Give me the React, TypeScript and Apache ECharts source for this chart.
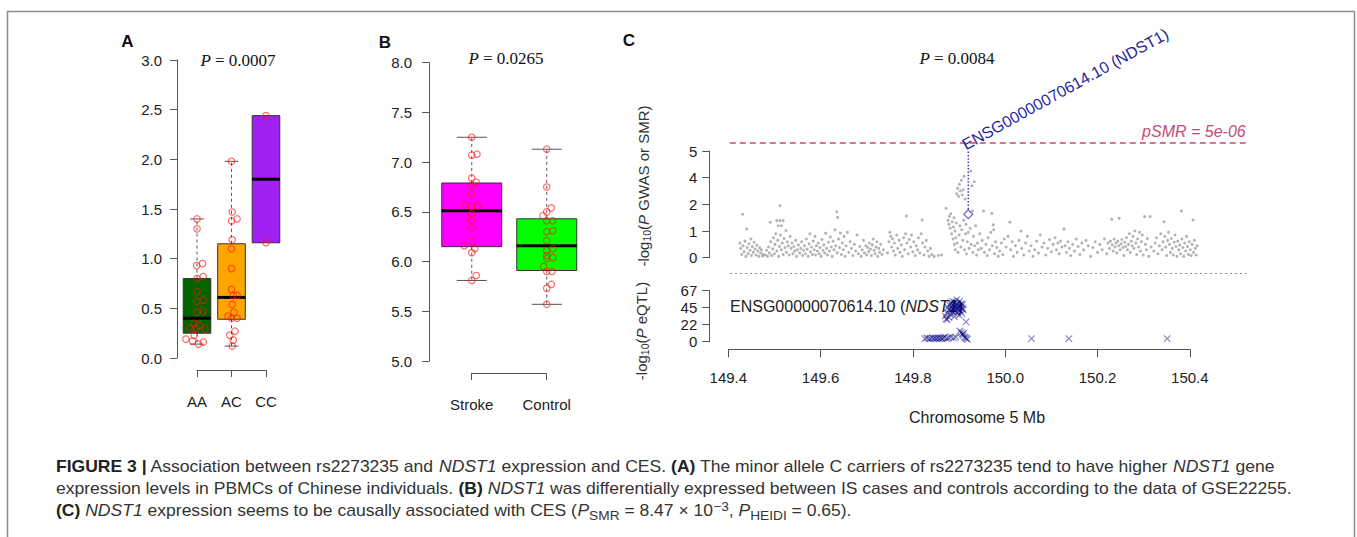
import React, { useEffect, useRef } from "react";
import * as echarts from "echarts";

const SANS = '"Liberation Sans", Arial, Helvetica, sans-serif';
const SERIF = '"Liberation Serif", "Times New Roman", serif';

// ---------------- Panel A ----------------
const genotypes = ["AA", "AC", "CC"];
const genotypeFill = ["#006400", "#FFA500", "#A020F0"];
// [low whisker, Q1, median, Q3, high whisker]
const boxA = [
  [0.14, 0.25, 0.40, 0.80, 1.40],
  [0.12, 0.39, 0.61, 1.15, 1.98],
  [1.16, 1.16, 1.80, 2.44, 2.44],
];
// [jitter offset, value]
const jitterAA = [
  [0, 1.40], [0, 1.30], [-0.01, 0.93], [0.16, 0.95], [0, 0.80], [0.18, 0.82], [0, 0.67],
  [0, 0.57], [0.18, 0.58], [0, 0.46], [0.18, 0.47], [-0.08, 0.35], [0.06, 0.33],
  [-0.22, 0.30], [-0.01, 0.30], [0.23, 0.29], [-0.32, 0.19], [-0.13, 0.17], [0.04, 0.14],
  [0.18, 0.16], [-0.08, 0.23],
];
const jitterAC = [
  [0, 1.98], [0.02, 1.47], [0, 1.38], [0.16, 1.40], [0.02, 1.19], [0, 1.10], [0, 0.90],
  [0, 0.69], [0.05, 0.63], [0.16, 0.63], [0.02, 0.54], [0.07, 0.46], [-0.1, 0.42],
  [0, 0.40], [0.16, 0.40], [0.1, 0.27], [-0.05, 0.23], [0.05, 0.18], [0.02, 0.12],
];
const jitterCC = [[0, 2.44], [0, 1.16]];
const pValueA = "0.0007";

// ---------------- Panel B ----------------
const groupsB = ["Stroke", "Control"];
const groupFillB = ["#FF00FF", "#00FF00"];
const boxB = [
  [5.81, 6.15, 6.51, 6.79, 7.25],
  [5.57, 5.91, 6.16, 6.43, 7.13],
];
const jitterStroke = [
  [0, 7.25], [0, 7.07], [0.07, 7.08], [0, 6.84], [0.06, 6.80], [0, 6.77], [0, 6.68],
  [-0.08, 6.57], [0, 6.55], [0.08, 6.56], [0, 6.48], [0, 6.42], [0, 6.34], [0.01, 6.20],
  [-0.1, 6.16], [0.04, 6.13], [0, 6.09], [0.06, 5.86], [0, 5.81],
];
const jitterControl = [
  [0, 7.13], [0, 6.75], [0.06, 6.54], [0, 6.50], [-0.05, 6.46], [0, 6.41], [0.08, 6.41],
  [0, 6.30], [0.08, 6.31], [0, 6.21], [0.08, 6.13], [0, 6.11], [0, 6.06], [0.08, 6.04],
  [0, 6.03], [-0.04, 5.95], [0, 5.90], [0.07, 5.90], [0.06, 5.77], [0, 5.73], [0, 5.57],
];
const pValueB = "0.0265";

// ---------------- Panel C ----------------
const gwasTickLabels = ["0", "1", "2", "4", "5"];
// [position Mb, plotted -log10 P (axis units)]
const gwasPoints = [
  [149.425,0.55],[149.427,0.35],[149.429,0.12],[149.431,1.63],[149.432,0.45],[149.434,0.22],[149.436,0.62],[149.438,0.05],[149.440,1.08],[149.441,0.38],[149.443,0.15],[149.445,0.52],[149.447,0.28],[149.449,0.70],[149.450,0.08],[149.452,0.42],[149.454,0.20],[149.456,0.58],[149.458,0.33],[149.460,0.10],[149.462,0.47],[149.464,0.25],[149.466,0.05],[149.468,0.37],[149.470,0.18],[149.472,0.30],[149.474,0.06],[149.476,0.12],
  [149.480,0.10],[149.483,0.28],[149.485,0.05],[149.487,0.40],[149.489,0.18],[149.491,1.33],[149.492,0.60],[149.494,0.08],[149.496,0.33],[149.498,0.75],[149.500,0.15],[149.501,0.50],[149.503,0.90],[149.505,1.39],[149.505,0.25],[149.507,0.65],[149.508,1.20],[149.509,0.05],[149.511,0.42],[149.512,1.95],[149.512,1.39],[149.513,0.85],[149.515,1.20],[149.515,0.30],[149.517,0.55],[149.519,1.39],[149.519,0.12],[149.521,0.72],[149.523,0.38],[149.525,1.02],[149.526,0.20],[149.528,0.60],[149.530,0.45],[149.532,0.10],[149.534,0.80],[149.536,0.35],[149.538,0.55],[149.540,0.15],[149.542,0.42],[149.544,0.25],[149.546,0.65],[149.548,0.05],[149.550,0.30],
  [149.552,0.48],[149.555,0.18],[149.557,0.35],[149.559,0.60],[149.561,0.08],[149.563,0.28],[149.565,0.45],[149.567,0.15],[149.569,0.70],[149.571,0.32],[149.573,0.05],[149.575,0.52],[149.577,0.90],[149.578,0.22],[149.580,0.40],[149.582,0.12],[149.584,0.62],[149.586,0.30],[149.588,0.80],[149.589,0.10],[149.591,0.45],[149.593,0.25],[149.595,0.55],[149.597,0.15],[149.599,0.38],[149.601,0.05],[149.603,0.68],[149.605,0.28],[149.607,0.48],[149.609,0.18],[149.611,0.92],[149.613,0.35],[149.615,0.10],[149.617,0.58],[149.619,0.25],[149.621,0.78],[149.623,0.40],[149.625,0.05],[149.627,0.62],[149.629,0.30],[149.631,1.05],[149.633,0.45],[149.635,1.72],[149.636,0.18],[149.637,1.51],[149.639,0.70],[149.641,0.38],[149.643,0.92],[149.645,0.12],[149.647,0.55],[149.649,0.30],[149.651,0.80],[149.653,0.05],[149.655,0.45],
  [149.658,0.95],[149.661,0.20],[149.664,0.60],[149.667,0.35],[149.670,0.08],[149.673,0.50],[149.676,0.25],[149.679,0.85],[149.682,0.15],[149.685,0.42],[149.688,0.05],[149.690,0.30],[149.693,0.65],[149.695,0.18],[149.698,0.45],[149.700,0.10],[149.702,0.38],[149.704,0.22],[149.706,0.55],[149.708,0.32],[149.710,0.08],[149.712,0.48],[149.714,0.70],[149.716,0.28],[149.718,0.15],[149.720,0.40],[149.722,0.60],[149.724,0.05],[149.726,0.35],[149.728,0.20],[149.730,0.50],[149.733,0.12],[149.736,0.30],
  [149.745,0.18],[149.748,0.60],[149.750,0.95],[149.752,0.80],[149.754,0.40],[149.756,0.70],[149.758,0.25],[149.760,0.55],[149.762,0.10],[149.765,0.85],[149.767,0.35],[149.770,0.65],[149.772,0.20],[149.775,0.48],[149.777,0.05],[149.780,0.75],[149.782,0.30],[149.784,0.90],[149.786,1.56],[149.787,0.55],[149.790,0.15],[149.792,0.68],[149.795,0.40],[149.797,0.85],[149.800,0.22],[149.802,0.60],[149.805,0.08],[149.807,0.45],[149.810,0.30],[149.812,0.75],[149.815,0.18],[149.818,0.90],[149.820,1.41],[149.821,0.55],[149.824,0.10],[149.826,0.40],[149.829,0.65],[149.832,0.25],[149.835,0.05],[149.838,0.35],[149.841,0.12],[149.846,0.05],[149.855,0.08],[149.862,0.10],[149.872,1.85],
  [149.876,1.40],[149.878,1.25],[149.879,1.55],[149.881,1.10],[149.882,1.65],[149.884,0.90],[149.885,1.35],[149.887,0.70],[149.888,1.15],[149.889,1.50],[149.890,0.50],[149.891,1.00],[149.892,0.30],[149.893,0.75],[149.894,1.30],[149.895,2.40],[149.896,0.55],[149.897,2.60],[149.898,0.20],[149.899,2.30],[149.900,0.85],[149.901,2.75],[149.902,1.20],[149.903,2.50],[149.904,0.40],[149.905,2.90],[149.906,1.05],[149.907,2.35],[149.908,0.65],[149.909,2.55],[149.910,1.40],[149.911,3.05],[149.912,0.30],[149.913,2.20],[149.914,0.90],[149.915,1.25],[149.916,0.15],[149.918,0.60],[149.920,0.95],[149.922,0.35],[149.924,1.10],[149.925,3.25],[149.926,0.50],[149.928,2.70],[149.929,1.75],[149.930,0.20],[149.931,0.80],[149.933,2.85],[149.934,0.45],[149.936,1.20],[149.938,0.10],[149.940,0.55],[149.942,0.30],
  [149.945,0.90],[149.948,0.35],[149.950,0.65],[149.953,1.75],[149.955,0.20],[149.958,0.50],[149.961,0.08],[149.963,0.75],[149.966,0.30],[149.969,0.95],[149.971,1.66],[149.972,0.45],[149.974,1.23],[149.975,1.05],[149.977,0.15],[149.979,0.60],[149.982,0.38],[149.985,0.05],[149.988,0.25],[149.992,0.55],[149.995,0.12],[149.998,0.70],[150.002,0.40],[150.006,0.80],[150.010,1.33],[150.012,0.30],[150.015,0.60],[150.018,0.05],[150.022,0.45],[150.026,0.20],[150.030,0.65],[150.034,1.00],[150.036,0.35],[150.040,0.10],[150.044,0.55],[150.048,0.80],[150.052,0.25],[150.056,0.45],[150.060,0.05],[150.064,0.30],[150.068,0.62],[150.072,0.18],[150.076,0.85],[150.080,0.40],[150.084,0.55],[150.088,0.10],[150.092,0.35],[150.096,0.68],[150.100,0.22],
  [150.104,0.50],[150.108,0.75],[150.111,0.30],[150.114,0.55],[150.117,0.15],[150.120,0.62],[150.123,0.40],[150.127,1.08],[150.130,0.45],[150.133,0.20],[150.136,0.60],[150.139,0.35],[150.142,0.08],[150.146,0.50],[150.150,0.25],[150.154,0.70],[150.158,0.42],[150.162,0.12],[150.166,0.55],[150.170,0.30],[150.175,0.65],[150.180,0.45],[150.185,0.05],[150.190,0.38],[150.195,0.60],[150.200,0.20],[150.205,0.50],[150.210,0.30],[150.215,0.70],[150.220,0.15],
  [150.223,0.55],[150.226,0.35],[150.228,0.62],[150.231,1.44],[150.232,0.48],[150.234,0.25],[150.236,0.70],[150.238,0.40],[150.240,0.55],[150.242,0.18],[150.244,0.62],[150.246,0.45],[150.247,1.48],[150.249,0.30],[150.251,0.52],[150.253,0.68],[150.255,0.38],[150.257,0.08],[150.259,0.58],[150.261,0.42],[150.263,0.75],[150.265,0.30],[150.267,0.50],[150.269,0.90],[150.271,0.20],[150.273,0.62],[150.275,0.45],[150.277,0.80],[150.279,0.35],[150.281,1.00],[150.283,0.55],[150.285,0.12],[150.287,0.70],[150.289,0.40],[150.291,0.95],[150.293,0.25],[150.295,0.60],[150.297,0.85],[150.299,0.10],[150.302,1.54],[150.304,0.50],[150.306,0.30],[150.308,0.72],[150.311,0.05],[150.314,1.54],[150.316,0.40],
  [150.322,0.25],[150.325,0.55],[150.328,0.75],[150.331,0.15],[150.334,0.45],[150.337,0.90],[150.340,0.30],[150.342,0.60],[150.344,1.35],[150.346,0.80],[150.348,0.40],[150.350,0.08],[150.352,0.65],[150.354,0.95],[150.356,0.50],[150.358,0.20],[150.360,0.72],[150.362,0.35],[150.364,0.10],[150.366,0.58],[150.368,0.85],[150.370,0.42],[150.372,0.05],[150.374,0.62],[150.376,0.30],[150.378,0.48],[150.380,0.15],[150.382,1.75],[150.383,0.70],[150.385,0.38],[150.387,0.05],[150.389,0.55],[150.391,0.25],[150.393,0.80],[150.395,0.42],[150.397,0.12],[150.399,0.60],[150.401,0.30],[150.403,0.08],[150.405,0.50],[150.407,1.41],[150.408,0.20],[150.410,0.65],[150.412,0.35],[150.414,0.10],[150.416,0.45],
];
const smrThresholdPos = 4.3;
const smrThresholdLabel = "pSMR = 5e-06";
const smrProbe = [149.92, 1.63];
const smrLabelTop = 4.05;
const probeName = "ENSG00000070614.10";
const geneName = "NDST1";
// [position Mb, -log10 P eQTL]
const eqtlPoints = [
  [149.870,34],[149.872,30],[149.874,38],[149.876,45],[149.878,42],[149.880,48],[149.881,36],[149.882,51],[149.883,44],[149.884,40],[149.885,47],[149.886,53],[149.887,43],[149.888,49],[149.889,38],[149.890,46],[149.891,52],[149.892,41],[149.893,48],[149.894,44],[149.895,55],[149.896,39],[149.897,47],[149.898,50],[149.899,43],[149.900,46],[149.901,53],[149.902,41],[149.903,48],[149.904,45],[149.905,50],[149.906,37],[149.907,44],[149.908,49],[149.909,42],[149.878,32],[149.874,29],[149.890,33],[149.900,35],[149.915,26],
  [149.826,4],[149.830,5],[149.834,4],[149.838,4],[149.842,5],[149.845,4],[149.848,5],[149.851,4],[149.854,5],[149.857,4],[149.860,5],[149.863,4],[149.866,5],[149.869,6],[149.873,4],[149.877,5],[149.882,6],[149.888,5],[149.893,6],
  [149.902,14],[149.905,12],[149.907,10],[149.909,8],[149.912,6],[149.914,5],[149.916,4],[149.918,3],[149.910,11],
  [150.057,4],[150.138,4],[150.351,4],
];
const eqtlMax = 67;
const pValueC = "0.0084";

// ---------------- Caption ----------------
type Seg = [string, string];
const captionLines: Seg[][] = [
  [["FIGURE 3 |", "b"], [" Association between rs2273235 and ", "r"], ["NDST1", "i"], [" expression and CES. ", "r"], ["(A)", "b"], [" The minor allele C carriers of rs2273235 tend to have higher ", "r"], ["NDST1", "i"], [" gene", "r"]],
  [["expression levels in PBMCs of Chinese individuals. ", "r"], ["(B)", "b"], [" ", "r"], ["NDST1", "i"], [" was differentially expressed between IS cases and controls according to the data of GSE22255.", "r"]],
  [["(C)", "b"], [" ", "r"], ["NDST1", "i"], [" expression seems to be causally associated with CES (", "r"], ["P", "i"], ["SMR", "sub"], [" = 8.47 × 10", "r"], ["−3", "sup"], [", ", "r"], ["P", "i"], ["HEIDI", "sub"], [" = 0.65).", "r"]],
];

const CAP = 16;
const CAP_SMALL = 12.5;
const capFont = (k: string) =>
  k === "b" ? `bold ${CAP}px ${SANS}` : k === "i" ? `italic ${CAP}px ${SANS}` : k === "sub" || k === "sup" ? `${CAP_SMALL}px ${SANS}` : `${CAP}px ${SANS}`;

const axisColor = "#555";
const labelStyle = { color: "#222", fontSize: 15, fontFamily: SANS };

function boxRenderer(fills: string[]) {
  return (params: any, api: any) => {
    const g = api.value(0);
    const lo = api.value(1), q1 = api.value(2), med = api.value(3), q3 = api.value(4), hi = api.value(5);
    const HW = 0.4, CW = 0.2;
    const [xL, yQ3] = api.coord([g - HW, q3]);
    const [xR, yQ1] = api.coord([g + HW, q1]);
    const [xC, yMed] = api.coord([g, med]);
    const yHi = api.coord([g, hi])[1];
    const yLo = api.coord([g, lo])[1];
    const cL = api.coord([g - CW, med])[0];
    const cR = api.coord([g + CW, med])[0];
    const dash = { stroke: "#555", lineWidth: 1, lineDash: [3, 3] };
    const solid = { stroke: "#555", lineWidth: 1 };
    const children: any[] = [];
    if (hi > q3) {
      children.push({ type: "line", shape: { x1: xC, y1: yQ3, x2: xC, y2: yHi }, style: dash });
      children.push({ type: "line", shape: { x1: cL, y1: yHi, x2: cR, y2: yHi }, style: solid });
    }
    if (lo < q1) {
      children.push({ type: "line", shape: { x1: xC, y1: yQ1, x2: xC, y2: yLo }, style: dash });
      children.push({ type: "line", shape: { x1: cL, y1: yLo, x2: cR, y2: yLo }, style: solid });
    }
    children.push({
      type: "rect",
      shape: { x: xL, y: yQ3, width: xR - xL, height: yQ1 - yQ3 },
      style: { fill: fills[params.dataIndex], stroke: "#333", lineWidth: 1 },
    });
    children.push({ type: "line", shape: { x1: xL, y1: yMed, x2: xR, y2: yMed }, style: { stroke: "#000", lineWidth: 3 } });
    return { type: "group", children };
  };
}

const ptStyle = { color: "rgba(0,0,0,0)", borderColor: "rgba(255,20,20,0.82)", borderWidth: 1.1 };

function valueY(gridIndex: number, min: number, max: number, interval: number, fmt: (v: number) => string, margin: number, offset = 0) {
  return {
    gridIndex, type: "value", min, max, interval, offset,
    axisLine: { show: true, onZero: false, lineStyle: { color: axisColor, width: 1 } },
    axisTick: { show: true, length: 7, lineStyle: { color: axisColor } },
    axisLabel: { ...labelStyle, margin, formatter: fmt },
    splitLine: { show: false },
  };
}
function bracketX(gridIndex: number, data: string[]) {
  return {
    gridIndex, type: "category", data, boundaryGap: false,
    axisLine: { show: true, onZero: false, lineStyle: { color: axisColor, width: 1 } },
    axisTick: { show: true, length: 7, alignWithLabel: true, lineStyle: { color: axisColor } },
    axisLabel: { ...labelStyle, margin: 24, interval: 0 },
    splitLine: { show: false },
  };
}
const hiddenX = (gridIndex: number, min: number, max: number) => ({ gridIndex, type: "value", min, max, show: false, splitLine: { show: false } });
const hiddenY = (gridIndex: number) => ({ gridIndex, type: "value", min: 0, max: 1, show: false, splitLine: { show: false } });

export default function App() {
  const ref = useRef<HTMLDivElement>(null);
  useEffect(() => {
    if (!ref.current) return;
    const chart = echarts.init(ref.current, undefined, { renderer: "svg" });

    const ctx = document.createElement("canvas").getContext("2d")!;
    const lineWidth = (segs: Seg[]) =>
      segs.reduce((s, [t, k]) => { ctx.font = capFont(k); return s + ctx.measureText(t).width; }, 0);
    const capScale = 1218 / lineWidth(captionLines[0]);
    const capRich = {
      r: { fontSize: CAP, fontFamily: SANS, fill: "#333", lineHeight: 22 },
      b: { fontSize: CAP, fontFamily: SANS, fontWeight: "bold", fill: "#222", lineHeight: 22 },
      i: { fontSize: CAP, fontFamily: SANS, fontStyle: "italic", fill: "#333", lineHeight: 22 },
      sub: { fontSize: CAP_SMALL, fontFamily: SANS, fill: "#333", lineHeight: 14, verticalAlign: "bottom" },
      sup: { fontSize: CAP_SMALL, fontFamily: SANS, fill: "#333", lineHeight: 14, verticalAlign: "top" },
    };
    const captionY = [467, 489, 511];
    const captionEls = captionLines.map((segs, i) => ({
      type: "group", x: 56, y: captionY[i], scaleX: capScale,
      children: [{ type: "text", x: 0, y: 0, style: { text: segs.map(([t, k]) => `{${k}|${t}}`).join(""), rich: capRich, verticalAlign: "middle", align: "left" } }],
    }));

    const pRich = {
      i: { fontFamily: SERIF, fontStyle: "italic", fontSize: 17, fill: "#111" },
      r: { fontFamily: SERIF, fontSize: 17, fill: "#111" },
    };
    const pText = (x: number, y: number, v: string) => ({
      type: "text", x, y, style: { text: `{i|P}{r| = ${v}}`, rich: pRich, align: "center", verticalAlign: "middle" },
    });
    const letter = (x: number, y: number, t: string) => ({
      type: "text", x, y, style: { text: t, fontFamily: SANS, fontWeight: "bold", fontSize: 17, fill: "#111", align: "center", verticalAlign: "middle" },
    });
    const axRich = {
      r: { fontFamily: SANS, fontSize: 15, fill: "#333", lineHeight: 18 },
      i: { fontFamily: SANS, fontSize: 15, fontStyle: "italic", fill: "#333", lineHeight: 18 },
      s: { fontFamily: SANS, fontSize: 10.5, fill: "#333", lineHeight: 11, verticalAlign: "bottom" },
    };

    const option: any = {
      animation: false,
      backgroundColor: "#ffffff",
      grid: [
        { left: 177, top: 60, width: 109, height: 298 },
        { left: 197, top: 320, width: 69, height: 50 },
        { left: 429, top: 62.7, width: 160.5, height: 298.3 },
        { left: 471.7, top: 323, width: 75, height: 50 },
        { left: 728.3, top: 151, width: 518.4, height: 106.7 },
        { left: 728.3, top: 290.7, width: 518.4, height: 51 },
        { left: 728.3, top: 300, width: 461.5, height: 49.3 },
      ],
      xAxis: [
        hiddenX(0, 0.42, 3.58),
        bracketX(1, genotypes),
        hiddenX(2, 0.43, 2.57),
        bracketX(3, groupsB),
        hiddenX(4, 149.4, 150.5233),
        hiddenX(5, 149.4, 150.5233),
        {
          gridIndex: 6, type: "value", min: 149.4, max: 150.4, interval: 0.2,
          axisLine: { show: true, onZero: false, lineStyle: { color: axisColor, width: 1 } },
          axisTick: { show: true, length: 8, lineStyle: { color: axisColor } },
          axisLabel: { ...labelStyle, margin: 21, formatter: (v: number) => v.toFixed(1) },
          splitLine: { show: false },
        },
      ],
      yAxis: [
        valueY(0, 0, 3, 0.5, (v) => v.toFixed(1), 15),
        hiddenY(1),
        valueY(2, 5, 8, 0.5, (v) => v.toFixed(1), 17),
        hiddenY(3),
        valueY(4, 0, 4, 1, (v) => gwasTickLabels[Math.round(v)] ?? "", 12, 19),
        valueY(5, 0, eqtlMax, eqtlMax / 3, (v) => String(Math.round(v)), 12, 19),
        hiddenY(6),
      ],
      series: [
        {
          type: "custom", xAxisIndex: 0, yAxisIndex: 0, clip: false,
          encode: { x: 0, y: [1, 2, 3, 4, 5] },
          data: boxA.map((s, i) => [i + 1, ...s]),
          renderItem: boxRenderer(genotypeFill), z: 2,
        },
        {
          type: "scatter", xAxisIndex: 0, yAxisIndex: 0, symbol: "circle", symbolSize: 6.5, z: 3,
          itemStyle: ptStyle,
          data: [
            ...jitterAA.map(([o, v]) => [1 + o, v]),
            ...jitterAC.map(([o, v]) => [2 + o, v]),
            ...jitterCC.map(([o, v]) => [3 + o, v]),
          ],
        },
        {
          type: "custom", xAxisIndex: 2, yAxisIndex: 2, clip: false,
          encode: { x: 0, y: [1, 2, 3, 4, 5] },
          data: boxB.map((s, i) => [i + 1, ...s]),
          renderItem: boxRenderer(groupFillB), z: 2,
        },
        {
          type: "scatter", xAxisIndex: 2, yAxisIndex: 2, symbol: "circle", symbolSize: 6.5, z: 3,
          itemStyle: ptStyle,
          data: [
            ...jitterStroke.map(([o, v]) => [1 + o, v]),
            ...jitterControl.map(([o, v]) => [2 + o, v]),
          ],
        },
        {
          type: "scatter", xAxisIndex: 4, yAxisIndex: 4, symbol: "circle", symbolSize: 3, clip: false,
          itemStyle: { color: "#a0a0a0" }, data: gwasPoints,
        },
        {
          type: "custom", xAxisIndex: 4, yAxisIndex: 4, clip: false,
          encode: { x: 0, y: 1 },
          data: [[149.4, smrThresholdPos]],
          renderItem: (params: any, api: any) => {
            const cs = params.coordSys;
            const y = api.coord([api.value(0), api.value(1)])[1];
            return {
              type: "group",
              children: [
                { type: "line", shape: { x1: cs.x + 1.5, y1: y, x2: cs.x + cs.width, y2: y }, style: { stroke: "#c44a78", lineWidth: 1.3, lineDash: [6, 4] } },
                { type: "text", x: cs.x + cs.width - 1, y: y - 3, style: { text: smrThresholdLabel, fill: "#c44a78", fontSize: 16, fontStyle: "italic", fontFamily: SANS, align: "right", verticalAlign: "bottom" } },
              ],
            };
          },
        },
        {
          type: "custom", xAxisIndex: 4, yAxisIndex: 4, clip: false,
          encode: { x: 0, y: [1, 2] },
          data: [[smrProbe[0], smrProbe[1], smrLabelTop]],
          renderItem: (params: any, api: any) => {
            const p0 = api.coord([api.value(0), api.value(1)]);
            const p1 = api.coord([api.value(0), api.value(2)]);
            return {
              type: "group",
              children: [
                { type: "line", shape: { x1: p0[0], y1: p0[1] - 5, x2: p1[0], y2: p1[1] }, style: { stroke: "#4040c0", lineWidth: 1.5, lineDash: [1.5, 1.8] } },
                { type: "text", x: p1[0] - 1, y: p1[1] + 3, rotation: (29 * Math.PI) / 180, style: { text: `${probeName} (${geneName})`, fill: "#23239c", fontSize: 16, fontFamily: SANS, align: "left", verticalAlign: "bottom" } },
              ],
            };
          },
        },
        {
          type: "scatter", xAxisIndex: 4, yAxisIndex: 4, symbol: "diamond", symbolSize: 9, clip: false, z: 4,
          itemStyle: { color: "rgba(0,0,0,0)", borderColor: "#4444bb", borderWidth: 1.2 },
          data: [smrProbe],
        },
        {
          type: "scatter", xAxisIndex: 5, yAxisIndex: 5, clip: false,
          symbol: "path://M0,0L10,10M10,0L0,10", symbolSize: 6.5,
          itemStyle: { color: "rgba(0,0,0,0)", borderColor: "rgba(0,0,128,0.6)", borderWidth: 1.2 },
          data: eqtlPoints,
        },
      ],
      graphic: {
        elements: [
          { type: "rect", shape: { x: 7.5, y: 11.5, width: 1347, height: 600 }, style: { fill: "none", stroke: "#8c8c8c", lineWidth: 1.5 }, z: -1 },
          letter(127.5, 41, "A"),
          letter(385, 42, "B"),
          letter(629, 40, "C"),
          pText(238, 60, pValueA),
          pText(506, 58, pValueB),
          pText(957, 58, pValueC),
          { type: "text", x: 643, y: 186, rotation: Math.PI / 2, style: { text: "{r|-log}{s|10}{r|(}{i|P}{r| GWAS or SMR)}", rich: axRich, align: "center", verticalAlign: "middle" } },
          { type: "text", x: 641, y: 331, rotation: Math.PI / 2, style: { text: "{r|-log}{s|10}{r|(}{i|P}{r| eQTL)}", rich: axRich, align: "center", verticalAlign: "middle" } },
          {
            type: "text", x: 730, y: 306,
            style: {
              text: `{r|${probeName} (}{i|${geneName}}{r|)}`,
              rich: { r: { fontFamily: SANS, fontSize: 16, fill: "#222" }, i: { fontFamily: SANS, fontSize: 16, fontStyle: "italic", fill: "#222" } },
              align: "left", verticalAlign: "middle",
            },
          },
          { type: "text", x: 977, y: 417, style: { text: "Chromosome 5 Mb", fontFamily: SANS, fontSize: 16, fill: "#222", align: "center", verticalAlign: "middle" } },
          { type: "line", shape: { x1: 730, y1: 273.5, x2: 1246.7, y2: 273.5 }, style: { stroke: "#8f8f8f", lineWidth: 1, lineDash: [2, 3] } },
          ...captionEls,
        ],
      },
    };
    chart.setOption(option);
    return () => chart.dispose();
  }, []);
  return <div ref={ref} style={{ position: "absolute", left: 0, top: 0, width: 1357, height: 537 }} />;
}
